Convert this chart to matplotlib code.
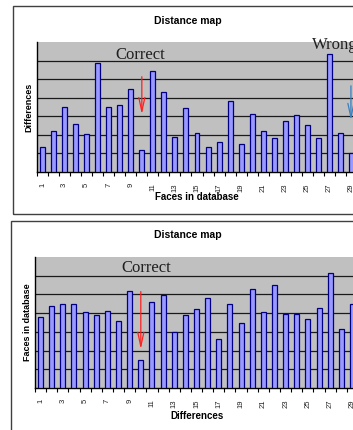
import numpy as np
import matplotlib.pyplot as plt
from matplotlib.patches import Rectangle

# values (units = gridline steps)
faces = np.arange(1, 30)
diff_top = [1.34, 2.20, 3.48, 2.56, 2.02, 5.87, 3.48, 3.61, 4.46, 1.21,
            5.45, 4.30, 1.91, 3.43, 2.08, 1.34, 1.59, 3.83, 1.52, 3.14,
            2.20, 1.82, 2.73, 3.05, 2.51, 1.82, 6.37, 2.08, 1.01]
diff_bottom = [3.79, 4.38, 4.47, 4.47, 4.06, 3.90, 4.09, 3.57, 5.17, 1.51,
               4.60, 4.99, 2.98, 3.90, 4.20, 4.81, 2.60, 4.51, 3.50, 5.30,
               4.06, 5.48, 3.95, 3.97, 3.68, 4.27, 6.14, 3.14, 4.47]
tick_labels = [str(i) for i in faces if i % 2 == 1]

BAR_FILL = '#9999FF'
BAR_EDGE = '#000080'
PLOT_BG = '#C0C0C0'
FONT = 'Liberation Sans'
ARROW = '->,head_length=1.0,head_width=0.22'

W, H = 353, 430
fig = plt.figure(figsize=(W / 100, H / 100), dpi=100)


def fx(px):
    return px / W


def fy(py):
    return (H - py) / H


# chart area frames (right side is cut off like the screenshot)
fig.patches.append(Rectangle((fx(13), fy(214)), 1.2, (214 - 6) / H,
                             transform=fig.transFigure, fill=False,
                             edgecolor='#404040', linewidth=1.0))
fig.patches.append(Rectangle((fx(11), fy(221) - 0.6), 1.2, 0.6,
                             transform=fig.transFigure, fill=False,
                             edgecolor='#404040', linewidth=1.0))


def make_chart(rect, values, xlabel, ylabel, title_y, xlabel_y, ylabel_xy):
    ax = fig.add_axes(rect)
    ax.set_facecolor(PLOT_BG)
    ax.bar(faces, values, width=0.45, color=BAR_FILL, edgecolor=BAR_EDGE,
           linewidth=0.9, zorder=3)
    ax.set_xlim(0.5, 29.5)
    ax.set_ylim(0, 7)
    ax.set_yticks(range(1, 7))
    ax.yaxis.grid(True, color='#1a1a1a', linewidth=0.9, zorder=1)
    ax.tick_params(axis='y', length=0, labelleft=False)
    ax.set_xticks([i for i in faces if i % 2 == 1])
    ax.set_xticklabels(tick_labels, rotation=90, fontsize=5.5,
                       family=FONT, color='#202020')
    ax.set_xticks(np.arange(0.5, 30, 1), minor=True)
    ax.tick_params(axis='x', which='major', length=0, pad=8)
    ax.tick_params(axis='x', which='minor', length=3, width=0.8,
                   color='black')
    for s in ['top', 'right']:
        ax.spines[s].set_visible(False)
    for s in ['left', 'bottom']:
        ax.spines[s].set_color('black')
        ax.spines[s].set_linewidth(1.0)
    fig.text(fx(188), fy(title_y), 'Distance map', ha='center', va='center',
             fontsize=7.5, fontweight='bold', family=FONT)
    fig.text(fx(197), fy(xlabel_y), xlabel, ha='center', va='center',
             fontsize=7, fontweight='bold', family=FONT)
    fig.text(fx(ylabel_xy[0]), fy(ylabel_xy[1]), ylabel, ha='center',
             va='center', rotation=90, fontsize=6.5, fontweight='bold',
             family=FONT)
    return ax


ax1 = make_chart([fx(37), fy(172), 320 / W, 130 / H], diff_top,
                 'Faces in database', 'Differences', 21, 197, (29, 107))
ax2 = make_chart([fx(35), fy(388), 323 / W, 131 / H], diff_bottom,
                 'Differences', 'Faces in database', 235, 416, (28, 322))

# hand-drawn annotations
ax1.text(9.83, 6.3, 'Correct', ha='center', va='center', fontsize=12,
         family='Liberation Serif', color='#202020', zorder=5)
ax1.text(25.4, 6.85, 'Wrong', ha='left', va='center', fontsize=12,
         family='Liberation Serif', color='#202020', zorder=5, clip_on=False)
ax1.annotate('', xy=(10, 2.96), xytext=(10, 5.28),
             arrowprops=dict(arrowstyle=ARROW, color='#FF2020', lw=0.9),
             zorder=5)
ax1.annotate('', xy=(28.95, 2.64), xytext=(28.95, 4.79),
             arrowprops=dict(arrowstyle=ARROW, color='#3A7FBF', lw=0.9),
             zorder=5, annotation_clip=False)

ax2.text(10.45, 6.42, 'Correct', ha='center', va='center', fontsize=12,
         family='Liberation Serif', color='#202020', zorder=5)
ax2.annotate('', xy=(10, 1.93), xytext=(10, 5.3),
             arrowprops=dict(arrowstyle=ARROW, color='#FF2020', lw=0.9),
             zorder=5)

fig.savefig('out.png', dpi=100)
